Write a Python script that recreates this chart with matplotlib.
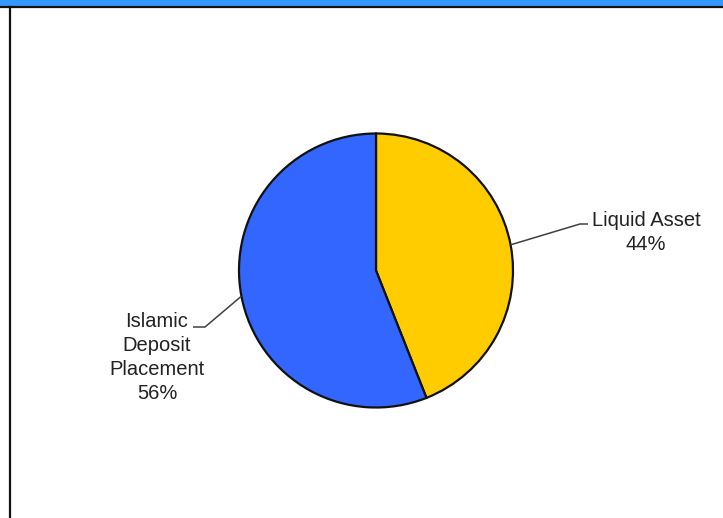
import numpy as np
import matplotlib
matplotlib.use("Agg")
import matplotlib.pyplot as plt
from matplotlib.patches import Rectangle
from matplotlib.lines import Line2D

plt.rcParams['font.family'] = ['Liberation Sans', 'DejaVu Sans']

labels = ["Liquid Asset", "Islamic\nDeposit\nPlacement"]
values = [44, 56]
colors = ['#FFCC00', '#3366FF']

W, H = 723, 518
fig = plt.figure(figsize=(W / 100, H / 100), dpi=100)
fig.patch.set_facecolor('white')

# frame: blue band on top, black rules
fig.add_artist(Rectangle((0, 1 - 6 / H), 1, 6 / H, transform=fig.transFigure,
                         facecolor='#3399FF', edgecolor='none'))
fig.add_artist(Line2D([0, 1], [1 - 6.5 / H] * 2, transform=fig.transFigure,
                      color='#111111', lw=1.6))
fig.add_artist(Line2D([9.5 / W] * 2, [0, 1 - 6.5 / H], transform=fig.transFigure,
                      color='#111111', lw=1.6))

ax = fig.add_axes([0, 0, 1, 1])

cx, cy, r = 376, H - 270.5, 137
wedges, _ = ax.pie(values, colors=colors, startangle=90, counterclock=False,
                   center=(cx, cy), radius=r, frame=True,
                   wedgeprops=dict(edgecolor='#111111', linewidth=1.6))
ax.set_xlim(0, W)
ax.set_ylim(0, H)
ax.set_aspect('auto')
ax.axis('off')

pcts = [f"{v / sum(values) * 100:.0f}%" for v in values]
# (elbow point, end of horizontal, text anchor)
layout = [((580, H - 224), (588, H - 224), (646, H - 232.5)),
          ((205, H - 327), (193, H - 327), (157, H - 357.5))]

for w, lab, pct, (elbow, end, txt) in zip(wedges, labels, pcts, layout):
    ang = np.deg2rad((w.theta1 + w.theta2) / 2)
    ex, ey = cx + r * np.cos(ang), cy + r * np.sin(ang)
    ax.plot([ex, elbow[0], end[0]], [ey, elbow[1], end[1]],
            color='#404040', lw=1.1, solid_capstyle='butt')
    ax.text(txt[0], txt[1], f"{lab}\n{pct}", ha='center', va='center',
            multialignment='center', fontsize=14.5, color='#222222',
            linespacing=1.32)

fig.savefig('out.png', dpi=100, facecolor='white')
